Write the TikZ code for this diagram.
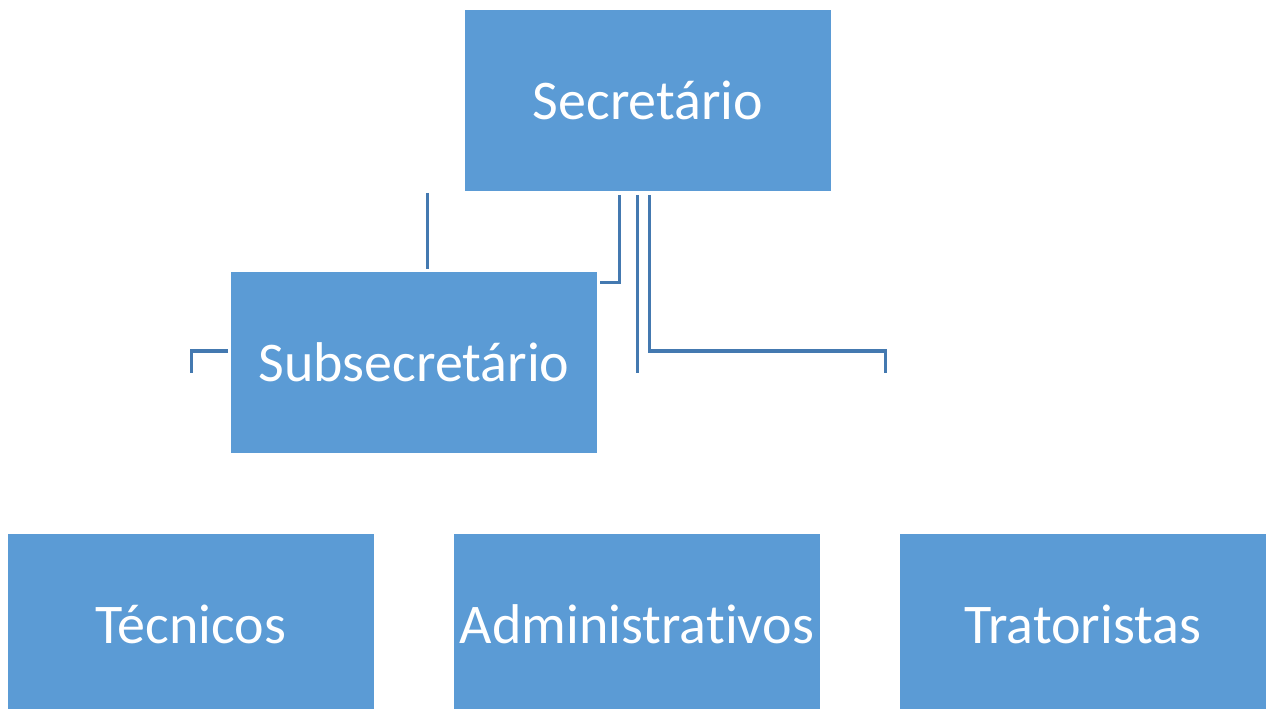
\documentclass[tikz,border=0pt]{standalone}
\usepackage{fontspec}
\setmainfont[RawFeature={-liga;-clig;-calt;-dlig}]{Carlito}
\definecolor{boxfill}{RGB}{91,155,213}
\definecolor{linecol}{RGB}{68,121,176}
\tikzset{
  orgbox/.style={rectangle, fill=boxfill, draw=none, inner sep=0pt,
    minimum width=274.5pt, minimum height=135.75pt, text=white,
    font=\fontsize{42pt}{50pt}\selectfont},
  conn/.style={draw=linecol, line width=2.25pt}
}
\begin{document}
\begin{tikzpicture}[x=0.75pt, y=-0.75pt]
\useasboundingbox (0,0) rectangle (1271,709);
\node[orgbox] (sec) at (648,100.5) {Secretário};
\node[orgbox] (sub) at (414,362.5) {Subsecretário};
\node[orgbox] (tec) at (191,624.5) {Técnicos};
\node[orgbox] (adm) at (637,624.5) {Administrat\kern0pt ivos};
\node[orgbox] (tra) at (1083,624.5) {Tratoristas};
% connector end points
\coordinate (a1) at (427,193);
\coordinate (a2) at (427,269);
\coordinate (b1) at (619,195);
\coordinate (b2) at (600,283);
\coordinate (c1) at (637,195);
\coordinate (c2) at (637,373);
\coordinate (d1) at (649,195);
\coordinate (d2) at (885,351);
\coordinate (d3) at (885,373);
\coordinate (e1) at (228,351);
\coordinate (e2) at (191,373);
\draw[conn] (a1) -- (a2);
\draw[conn] (b1) |- (b2);
\draw[conn] (c1) -- (c2);
\draw[conn] (d1) |- (d2) -- (d3);
\draw[conn] (e1) -| (e2);
\end{tikzpicture}
\end{document}
